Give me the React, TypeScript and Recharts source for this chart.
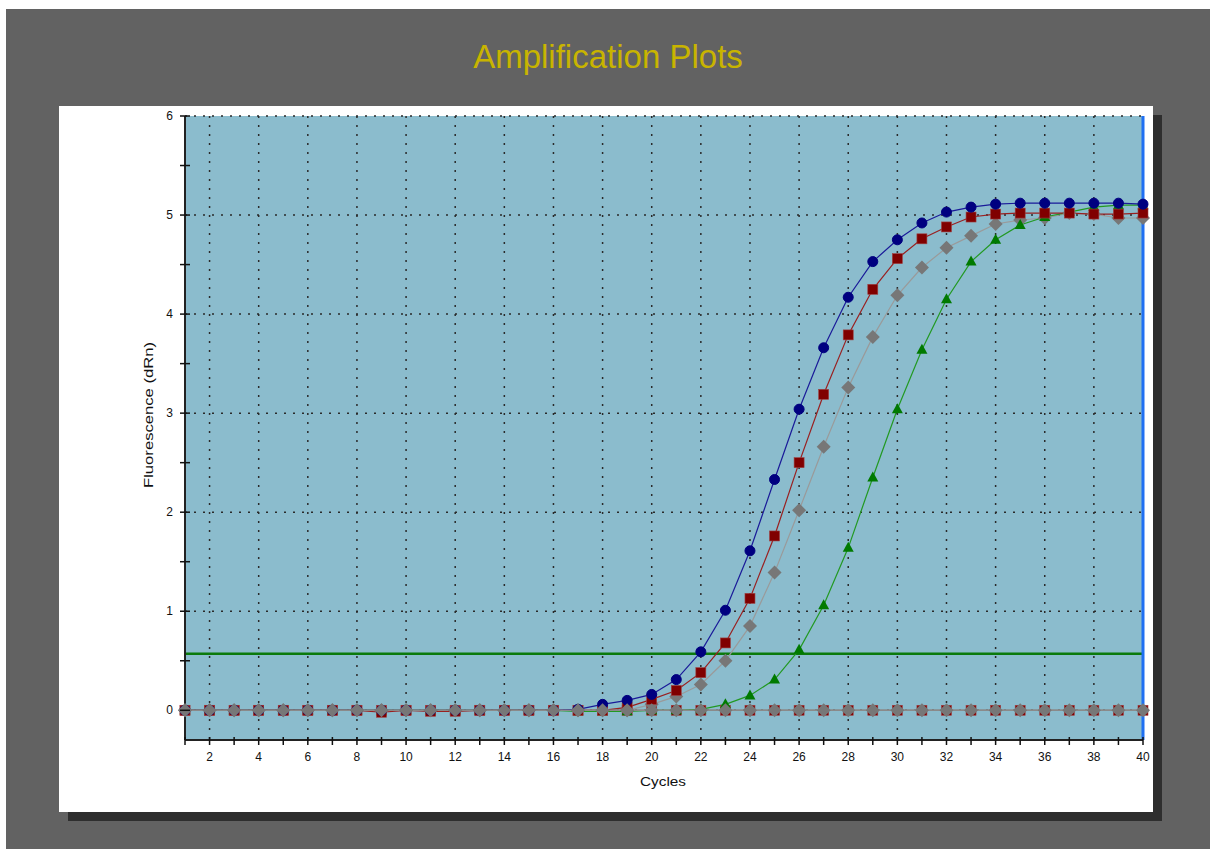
import { CartesianGrid, Line, LineChart, ReferenceLine, XAxis, YAxis } from "recharts";

const cycles = Array.from({ length: 40 }, (_, i) => i + 1);

const blueRun = [
  0, 0, 0, 0, 0, 0, 0, 0, 0, 0, 0, 0, 0, 0, 0, 0, 0.01, 0.06, 0.1, 0.16,
  0.31, 0.59, 1.01, 1.61, 2.33, 3.04, 3.66, 4.17, 4.53, 4.75, 4.92, 5.03, 5.08, 5.11, 5.12, 5.12, 5.12, 5.12, 5.12, 5.11,
];
const redRun = [
  0, 0, 0, 0, 0, 0, 0, 0, -0.02, 0, -0.01, -0.01, 0, 0, 0, 0, 0, 0, 0.03, 0.11,
  0.2, 0.38, 0.68, 1.13, 1.76, 2.5, 3.19, 3.79, 4.25, 4.56, 4.76, 4.88, 4.98, 5.01, 5.02, 5.02, 5.02, 5.01, 5.01, 5.02,
];
const greyRun = [
  0, 0, 0, 0, 0, 0, 0, 0, 0, 0, 0, 0, 0, 0, 0, 0, 0, 0, 0, 0.06,
  0.14, 0.26, 0.5, 0.85, 1.39, 2.02, 2.66, 3.26, 3.77, 4.19, 4.47, 4.67, 4.79, 4.91, 4.95, 4.97, 5.02, 5.01, 4.97, 4.97,
];
const greenRun = [
  0, 0, 0, 0, 0, 0, 0, 0, 0, 0, 0, 0, 0, 0, 0, 0, -0.01, -0.01, -0.01, 0,
  0, 0.01, 0.06, 0.15, 0.31, 0.61, 1.06, 1.64, 2.35, 3.04, 3.64, 4.15, 4.53, 4.75, 4.9, 4.98, 5.03, 5.08, 5.1, 5.1,
];
const ntcRun = cycles.map(() => 0);

const threshold = 0.57;
const xTicks = cycles;
const yTicks = [0, 0.5, 1, 1.5, 2, 2.5, 3, 3.5, 4, 4.5, 5, 5.5, 6];
const gridX = [2, 4, 6, 8, 10, 12, 14, 16, 18, 20, 22, 24, 26, 28, 30, 32, 34, 36, 38];
const gridY = [0, 1, 2, 3, 4, 5, 6];

const data = cycles.map((c, i) => ({
  cycle: c,
  blue: blueRun[i],
  red: redRun[i],
  grey: greyRun[i],
  green: greenRun[i],
  ntc: ntcRun[i],
}));

const font = "Liberation Sans, Arial, sans-serif";

const circleDot = (color: string) => (p: any) => {
  if (p.cx == null || p.cy == null) return <g key={`c${p.index}`} />;
  return <circle key={`c${p.index}`} cx={p.cx} cy={p.cy} r={5} fill={color} stroke={color} strokeWidth={1} />;
};
const squareDot = (color: string) => (p: any) => {
  if (p.cx == null || p.cy == null) return <g key={`s${p.index}`} />;
  return <rect key={`s${p.index}`} x={p.cx - 5} y={p.cy - 5} width={10} height={10} fill={color} stroke="#a04040" strokeWidth={0.6} />;
};
const diamondDot = (color: string) => (p: any) => {
  if (p.cx == null || p.cy == null) return <g key={`d${p.index}`} />;
  const { cx, cy } = p;
  return <polygon key={`d${p.index}`} points={`${cx},${cy - 7} ${cx + 7},${cy} ${cx},${cy + 7} ${cx - 7},${cy}`} fill={color} />;
};
const triangleDot = (color: string) => (p: any) => {
  if (p.cx == null || p.cy == null) return <g key={`t${p.index}`} />;
  const { cx, cy } = p;
  return <polygon key={`t${p.index}`} points={`${cx},${cy - 6} ${cx + 5.5},${cy + 4} ${cx - 5.5},${cy + 4}`} fill={color} />;
};

const YTick = (p: any) => {
  const v = p.payload.value;
  return (
    <g>
      <line x1={p.x + 7} x2={p.x + 17} y1={p.y} y2={p.y} stroke="#111" strokeWidth={1.5} />
      {Number.isInteger(v) && (
        <text x={p.x} y={p.y} dy={4} textAnchor="end" fontSize={12} fill="#111" fontFamily={font}>
          {v}
        </text>
      )}
    </g>
  );
};

const XTick = (p: any) => {
  const v = p.payload.value;
  return (
    <g>
      <line x1={p.x} x2={p.x} y1={p.y - 15} y2={p.y - 7} stroke="#111" strokeWidth={1.5} />
      {v % 2 === 0 && (
        <text x={p.x} y={p.y} dy={9} textAnchor="middle" fontSize={12} fill="#111" fontFamily={font}>
          {v}
        </text>
      )}
    </g>
  );
};

const YLabel = () => (
  <text
    x={91}
    y={309}
    transform="rotate(-90 91 309)"
    textAnchor="middle"
    dominantBaseline="middle"
    fontSize={13}
    fill="#111"
    fontFamily={font}
    textLength={146}
    lengthAdjust="spacingAndGlyphs"
  >
    Fluorescence (dRn)
  </text>
);

const XLabel = () => (
  <text x={604} y={677} textAnchor="middle" dominantBaseline="middle" fontSize={13} fill="#111" fontFamily={font} textLength={46} lengthAdjust="spacingAndGlyphs">
    Cycles
  </text>
);

export default function App() {
  return (
    <div style={{ position: "absolute", left: 6, top: 9, width: 1204, height: 840, background: "#626262" }}>
      <div
        style={{
          position: "absolute",
          top: 28,
          left: 0,
          width: 1204,
          textAlign: "center",
          fontFamily: font,
          fontSize: 33,
          lineHeight: "40px",
          color: "#c8b400",
        }}
      >
        Amplification Plots
      </div>
      <div
        style={{
          position: "absolute",
          left: 53,
          top: 97,
          width: 1094,
          height: 706,
          background: "#ffffff",
          boxShadow: "9px 9px 0 #2e2e2e",
        }}
      >
        <LineChart width={1094} height={706} data={data} margin={{ top: 10, right: 10, left: 0, bottom: 0 }}>
          <CartesianGrid
            fill="#8bbccd"
            fillOpacity={1}
            stroke="#2a2a2a"
            strokeWidth={1.5}
            strokeDasharray="2 7"
            horizontalValues={gridY}
            verticalValues={gridX}
          />
          <XAxis
            dataKey="cycle"
            type="number"
            domain={[1, 40]}
            ticks={xTicks}
            interval={0}
            height={72}
            tickSize={8}
            tickMargin={4}
            tickLine={false}
            tick={XTick}
            axisLine={{ stroke: "#222", strokeWidth: 2 }}
            label={<XLabel />}
          />
          <YAxis
            type="number"
            domain={[-0.3, 6]}
            allowDataOverflow
            ticks={yTicks}
            interval={0}
            width={126}
            tickSize={8}
            tickMargin={4}
            tickLine={false}
            tick={YTick}
            axisLine={{ stroke: "#222", strokeWidth: 2 }}
            label={<YLabel />}
          />
          <ReferenceLine y={threshold} stroke="#0b7a0b" strokeWidth={2.5} />
          <ReferenceLine x={40} stroke="#1f6ff2" strokeWidth={3} />
          <Line dataKey="ntc" stroke="#8a8a8a" strokeWidth={1.5} dot={squareDot("#800000")} isAnimationActive={false} />
          <Line dataKey="grey" stroke="#9a9a9a" strokeWidth={1.2} dot={diamondDot("#777777")} isAnimationActive={false} />
          <Line dataKey="green" stroke="#229922" strokeWidth={1.2} dot={triangleDot("#007a00")} isAnimationActive={false} />
          <Line dataKey="red" stroke="#992020" strokeWidth={1.2} dot={squareDot("#800000")} isAnimationActive={false} />
          <Line dataKey="blue" stroke="#1a1a99" strokeWidth={1.2} dot={circleDot("#000080")} isAnimationActive={false} />
          <Line dataKey="ntc" stroke="#8a8a8a" strokeWidth={1.5} dot={diamondDot("#777777")} isAnimationActive={false} />
        </LineChart>
      </div>
    </div>
  );
}
